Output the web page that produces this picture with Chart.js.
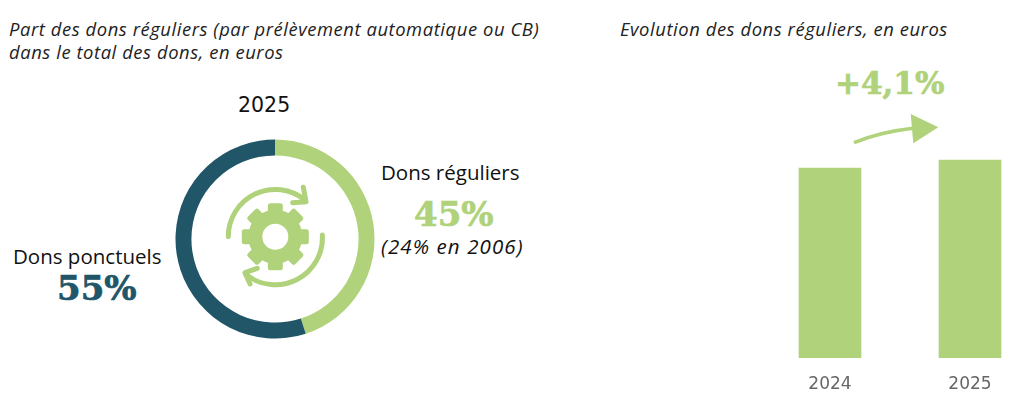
<!DOCTYPE html>
<html lang="fr">
<head>
<meta charset="utf-8">
<title>Dons réguliers</title>
<script src="https://cdn.jsdelivr.net/npm/chart.js@4"></script>
<style>
  html, body { margin: 0; padding: 0; background: #fff; overflow: hidden; width: 1024px; height: 401px; }
  body { position: relative; font-family: "Open Sans", sans-serif; color: #111; }
  .txt { position: absolute; white-space: nowrap; line-height: 1; }
  .title { font-style: italic; font-size: 18.4px; letter-spacing: 0.57px; line-height: 23px; color: #222; }
  .label { font-size: 20.5px; }
  .big { font-family: "DejaVu Serif", serif; font-weight: 700; font-size: 34px; -webkit-text-stroke: 0.7px currentColor; }
  .green { color: #afd27a; }
  .navy { color: #215568; }
  canvas { position: absolute; }
  svg { position: absolute; left: 0; top: 0; }
</style>
</head>
<body>
<div class="txt title" style="left:9px;top:17px">Part des dons réguliers (par prélèvement automatique ou CB)<br>dans le total des dons, en euros</div>
<div class="txt title" style="left:620px;top:17px">Evolution des dons réguliers, en euros</div>
<div class="txt label" style="left:238px;top:95px;font-family:'DejaVu Sans'">2025</div>
<div class="txt label" style="left:381px;top:162px">Dons réguliers</div>
<div class="txt big green" style="left:414px;top:197px">45%</div>
<div class="txt label" style="left:381px;top:236px;font-style:italic;letter-spacing:1.1px">(24% en 2006)</div>
<div class="txt label" style="left:13px;top:246px">Dons ponctuels</div>
<div class="txt big navy" style="left:57px;top:271px">55%</div>
<div class="txt big green" style="left:835px;top:68px;font-size:31px">+4,1%</div>

<div style="position:absolute;left:170px;top:134px;width:210px;height:210px"><canvas id="donut"></canvas></div>
<div style="position:absolute;left:760px;top:158px;width:280px;height:242px"><canvas id="bars"></canvas></div>

<svg width="1024" height="401" aria-hidden="true">
  <g fill="#afd27a" stroke="none">
    <g transform="translate(275.3 236.7)">
      <circle r="20" fill="none" stroke="#afd27a" stroke-width="14"></circle>
      <g id="teeth"></g>
    </g>
    <path d="M228.3 236.7 A47 47 0 0 1 305 200" fill="none" stroke="#afd27a" stroke-width="5" stroke-linecap="round"></path>
    <path d="M303.3 187.3 L306 201.7 L292.7 202.7" fill="none" stroke="#afd27a" stroke-width="5" stroke-linecap="round" stroke-linejoin="round"></path>
    <path d="M322.3 235 A47 47 0 0 1 246 274.5" fill="none" stroke="#afd27a" stroke-width="5" stroke-linecap="round"></path>
    <path d="M250 284 L245 272.7 L257.3 268.3" fill="none" stroke="#afd27a" stroke-width="5" stroke-linecap="round" stroke-linejoin="round"></path>
    <path d="M854 142.7 Q880 132 913 128.3" fill="none" stroke="#afd27a" stroke-width="3.6"></path>
    <path d="M910.7 114 L938.3 127.3 L913.3 143.3 Z"></path>
  </g>
</svg>

<script>
const shareLabels = ["Dons réguliers", "Dons ponctuels"];
const shareValues = [45, 55];
const shareColors = ["#afd27a", "#215568"];

const years = ["2024", "2025"];
const regularDons = [190, 198];

const teeth = document.getElementById("teeth");
for (let a = 0; a < 360; a += 45) {
  const r = document.createElementNS("http://www.w3.org/2000/svg", "rect");
  r.setAttribute("x", -7.5);
  r.setAttribute("y", -33.5);
  r.setAttribute("width", 15);
  r.setAttribute("height", 12);
  r.setAttribute("rx", 2.5);
  r.setAttribute("transform", `rotate(${a})`);
  teeth.appendChild(r);
}

new Chart(document.getElementById("donut"), {
  type: "doughnut",
  data: {
    labels: shareLabels,
    datasets: [{ data: shareValues, backgroundColor: shareColors, borderWidth: 0 }]
  },
  options: {
    responsive: true,
    maintainAspectRatio: false,
    animation: false,
    cutout: "84%",
    layout: { padding: 5.5 },
    plugins: { legend: { display: false }, tooltip: { enabled: false } }
  }
});

new Chart(document.getElementById("bars"), {
  type: "bar",
  data: {
    labels: years,
    datasets: [{ data: regularDons, backgroundColor: "#afd27a", barThickness: 62 }]
  },
  options: {
    responsive: true,
    maintainAspectRatio: false,
    animation: false,
    layout: { padding: 0 },
    plugins: { legend: { display: false }, tooltip: { enabled: false } },
    scales: {
      x: {
        grid: { display: false },
        border: { display: false },
        afterFit(scale) { scale.height = 42; },
        ticks: { color: "#666", padding: 8, maxRotation: 0, font: { family: "DejaVu Sans", size: 17 } }
      },
      y: { display: false, min: 0, max: 200 }
    }
  }
});
</script>
</body>
</html>
